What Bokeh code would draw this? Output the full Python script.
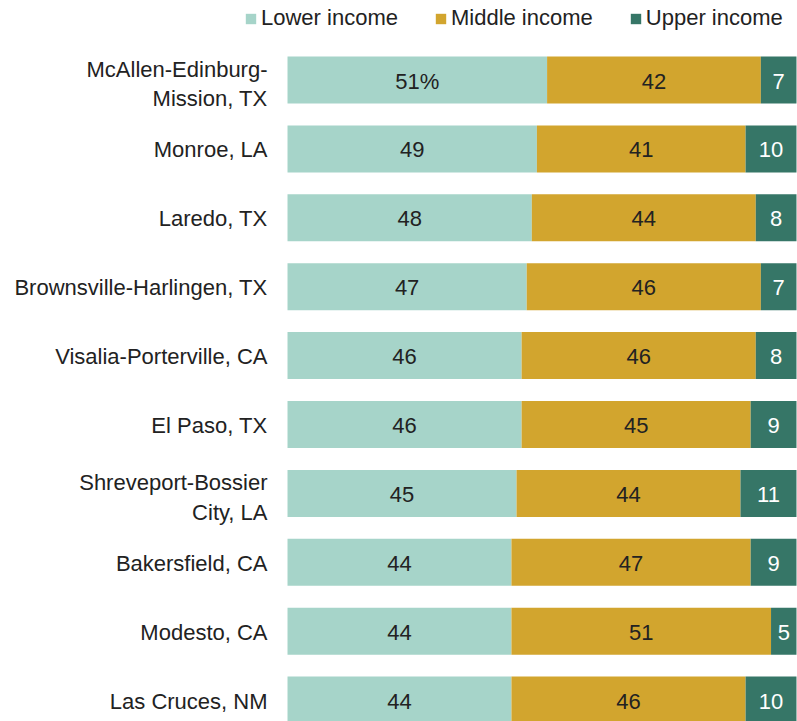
import numpy as np
from bokeh.plotting import figure
from bokeh.models import Range1d, ColumnDataSource
from bokeh.core.properties import value
from bokeh.embed import file_html
from bokeh.resources import INLINE

cities = [
    "McAllen-Edinburg-\nMission, TX",
    "Monroe, LA",
    "Laredo, TX",
    "Brownsville-Harlingen, TX",
    "Visalia-Porterville, CA",
    "El Paso, TX",
    "Shreveport-Bossier\nCity, LA",
    "Bakersfield, CA",
    "Modesto, CA",
    "Las Cruces, NM",
]
lower = [51, 49, 48, 47, 46, 46, 45, 44, 44, 44]
middle = [42, 41, 44, 46, 46, 45, 44, 47, 51, 46]
upper = [7, 10, 8, 7, 8, 9, 11, 9, 5, 10]
series_names = ["Lower income", "Middle income", "Upper income"]
colors = ["#A6D4C9", "#D2A52E", "#367667"]
label_colors = ["#222222", "#222222", "#FFFFFF"]

FONT = "Liberation Sans"
FS = "22px"

W, H = 797, 721

idx = np.arange(len(cities))
vals = np.array([lower, middle, upper], dtype=float)
lefts = np.vstack([np.zeros(len(cities)), np.cumsum(vals, axis=0)[:-1]])
rights = lefts + vals

p = figure(width=W, height=H, output_backend="svg", toolbar_location=None,
           x_range=Range1d(-56.39, 100.2), y_range=Range1d(9.311, -1.154),
           min_border=0, outline_line_color=None)
p.axis.visible = False
p.grid.visible = False
p.background_fill_color = "white"
p.border_fill_color = "white"

for k in range(3):
    labels = [str(int(v)) for v in vals[k]]
    if k == 0:
        labels[0] = labels[0] + "%"
    src = ColumnDataSource(dict(y=idx, left=lefts[k], right=rights[k],
                                mid=(lefts[k] + rights[k]) / 2, lab=labels))
    p.hbar(y="y", left="left", right="right", height=0.682, source=src,
           fill_color=colors[k], line_color=None, legend_label=series_names[k])
    p.text(x="mid", y="y", text="lab", source=src, text_align="center",
           text_baseline="middle", text_font=value(FONT), text_font_size=FS,
           text_color=label_colors[k], y_offset=1)

yoff = [4 if "\n" in c else 1 for c in cities]
csrc = ColumnDataSource(dict(y=idx, x=np.zeros(len(cities)), name=cities, yoff=yoff))
p.text(x="x", y="y", text="name", source=csrc, x_offset=-20, y_offset="yoff",
       text_align="right", text_baseline="middle", text_font=value(FONT),
       text_font_size=FS, text_color="#222222", text_line_height=1.17)

lg = p.legend[0]
lg.orientation = "horizontal"
lg.location = (244, H - 31)
lg.border_line_color = None
lg.background_fill_alpha = 0
lg.padding = 0
lg.margin = 0
lg.spacing = 36
lg.label_standoff = 4
lg.glyph_width = 13
lg.glyph_height = 13
lg.label_height = 18
lg.label_text_font = FONT
lg.label_text_font_size = FS
lg.label_text_color = "#222222"
lg.label_text_baseline = "middle"

open("out.html", "w").write(file_html(p, INLINE))
